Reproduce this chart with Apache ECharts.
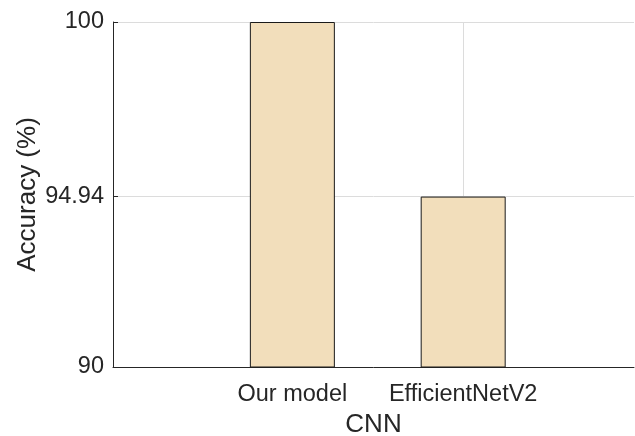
<!DOCTYPE html>
<html>
<head>
<meta charset="utf-8">
<script src="https://cdn.jsdelivr.net/npm/echarts@6/dist/echarts.min.js"></script>
<style>html,body{margin:0;padding:0;background:#fff;}#c{width:635px;height:436px;}</style>
</head>
<body>
<div id="c"></div>
<script>
const categories = ['Our model', 'EfficientNetV2'];
const accuracy = [100, 94.94];
const yTicks = [90, 94.94, 100];
const xPositions = [1, 2];

const chart = echarts.init(document.getElementById('c'), null, {renderer: 'canvas'});
const font = 'Liberation Sans, Arial, Helvetica, sans-serif';
const txt = '#262626';
chart.setOption({
  animation: false,
  grid: {left: 113, right: 1, top: 22, bottom: 69, containLabel: false, outerBoundsMode: 'none'},
  xAxis: {
    type: 'value', min: -0.05, max: 3,
    name: 'CNN', nameLocation: 'middle', nameGap: 45, nameMoveOverlap: false,
    nameTextStyle: {fontFamily: font, fontSize: 26, color: txt},
    axisLine: {show: true, onZero: false, lineStyle: {color: txt, width: 1}},
    axisTick: {show: true, inside: true, length: 5, lineStyle: {color: txt}, customValues: xPositions},
    axisLabel: {customValues: xPositions, fontFamily: font, fontSize: 23.5, color: txt, margin: 16,
      formatter: v => categories[xPositions.indexOf(v)] || ''},
    splitLine: {show: true, lineStyle: {color: '#dcdcdc', width: 1}}
  },
  yAxis: {
    type: 'value', min: 90, max: 100,
    name: 'Accuracy (%)', nameLocation: 'middle', nameGap: 72, nameMoveOverlap: false,
    nameTextStyle: {fontFamily: font, fontSize: 26, color: txt},
    axisLine: {show: true, onZero: false, lineStyle: {color: txt, width: 1}},
    axisTick: {show: true, inside: true, length: 5, lineStyle: {color: txt}, customValues: yTicks},
    axisLabel: {customValues: yTicks, fontFamily: font, fontSize: 23.5, color: txt, margin: 9},
    splitLine: {show: true, lineStyle: {color: '#dcdcdc', width: 1}}
  },
  series: [{
    type: 'bar',
    barWidth: 85,
    data: xPositions.map((x, i) => [x, accuracy[i]]),
    itemStyle: {color: '#F2DEBB', borderColor: '#1a1a1a', borderWidth: 1},
    z: 1
  }]
});
</script>
</body>
</html>
